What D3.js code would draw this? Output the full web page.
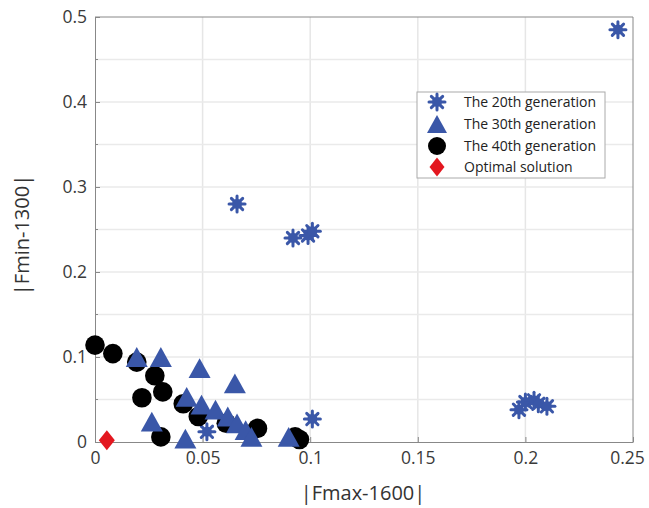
<!DOCTYPE html>
<html>
<head>
<meta charset="utf-8">
<script src="https://cdn.jsdelivr.net/npm/d3@7"></script>
<style>
  html, body { margin: 0; padding: 0; background: #fff; }
  svg { display: block; }
  text { font-family: "Open Sans", "Noto Sans", sans-serif; }
</style>
</head>
<body>
<svg id="chart" width="649" height="508"></svg>
<script>
// ---- data ----
const gen20X = [0.243, 0.066, 0.092, 0.099, 0.101, 0.197, 0.200, 0.204, 0.206, 0.210, 0.101, 0.052];
const gen20Y = [0.485, 0.280, 0.240, 0.243, 0.248, 0.038, 0.047, 0.049, 0.045, 0.042, 0.027, 0.012];

const gen30X = [0.0194, 0.0306, 0.0486, 0.065, 0.0264, 0.042, 0.0426, 0.0495, 0.056, 0.0617, 0.066, 0.070, 0.0727, 0.090];
const gen30Y = [0.100, 0.100, 0.087, 0.069, 0.024, 0.004, 0.053, 0.044, 0.038, 0.030, 0.022, 0.014, 0.006, 0.006];

const gen40X = [0.000, 0.0083, 0.0194, 0.0278, 0.0315, 0.0218, 0.0306, 0.041, 0.048, 0.061, 0.0755, 0.093, 0.095];
const gen40Y = [0.114, 0.104, 0.094, 0.078, 0.059, 0.052, 0.006, 0.045, 0.030, 0.022, 0.016, 0.006, 0.003];

const optX = [0.0055];
const optY = [0.002];

const xTicks = [0, 0.05, 0.1, 0.15, 0.2, 0.25];
const xTickLabels = ["0", "0.05", "0.1", "0.15", "0.2", "0.25"];
const yTicks = [0, 0.1, 0.2, 0.3, 0.4, 0.5];
const yTickLabels = ["0", "0.1", "0.2", "0.3", "0.4", "0.5"];
const yMinorTicks = [0.05, 0.15, 0.25, 0.35, 0.45];

const legendLabels = ["The 20th generation", "The 30th generation", "The 40th generation", "Optimal solution"];
const xLabel = "|Fmax-1600|";
const yLabel = "|Fmin-1300|";

// ---- layout ----
const svg = d3.select("#chart");
const L = 95, R = 633, T = 17, B = 442;
const x = d3.scaleLinear().domain([0, 0.25]).range([L, R]);
const y = d3.scaleLinear().domain([0, 0.5]).range([B, T]);

const BLUE = "#3a57a8", BLACK = "#000", RED = "#e3171f";

// grid
const grid = svg.append("g");
grid.selectAll("line.vx").data(xTicks.slice(1, -1)).join("line")
  .attr("x1", d => x(d)).attr("x2", d => x(d)).attr("y1", T).attr("y2", B)
  .attr("stroke", "#e6e6e6").attr("stroke-width", 1.5);
grid.selectAll("line.hy").data(yTicks.slice(1, -1).concat(yMinorTicks)).join("line")
  .attr("y1", d => y(d)).attr("y2", d => y(d)).attr("x1", L).attr("x2", R)
  .attr("stroke", "#eaeaea").attr("stroke-width", 1.5);

// axes
const xAxis = d3.axisBottom(x).tickValues(xTicks).tickFormat((d, i) => xTickLabels[i]).tickSizeInner(-5).tickSizeOuter(0).tickPadding(10);
const yAxis = d3.axisLeft(y).tickValues(yTicks).tickFormat((d, i) => yTickLabels[i]).tickSizeInner(-5).tickSizeOuter(0).tickPadding(8);
const gx = svg.append("g").attr("transform", `translate(0,${B})`).call(xAxis);
const gy = svg.append("g").attr("transform", `translate(${L},0)`).call(yAxis);
[gx, gy].forEach(g => {
  g.select(".domain").attr("stroke", "#888");
  g.selectAll(".tick line").attr("stroke", "#888");
  g.selectAll(".tick text").attr("fill", "#3a3a3a").attr("font-size", 17.5).attr("font-family", "'Open Sans', sans-serif");
});
// keep the last x label inside the window
gx.selectAll(".tick text").filter((d, i) => i === xTicks.length - 1).attr("dx", "-6");
svg.append("g").selectAll("line").data(yMinorTicks).join("line")
  .attr("x1", L).attr("x2", L + 3).attr("y1", d => y(d)).attr("y2", d => y(d)).attr("stroke", "#888");
// top and right border
svg.append("line").attr("x1", L).attr("x2", R).attr("y1", T).attr("y2", T).attr("stroke", "#888");
svg.append("line").attr("x1", R).attr("x2", R).attr("y1", T).attr("y2", B).attr("stroke", "#888");

// axis labels
svg.append("text").attr("x", 363).attr("y", 500).attr("text-anchor", "middle")
  .attr("font-size", 20).attr("fill", "#333").text(xLabel);
svg.append("text").attr("transform", `translate(29,235) rotate(-90)`).attr("text-anchor", "middle")
  .attr("font-size", 20).attr("fill", "#333").text(yLabel);

// marker drawers
function star(g, cx, cy, r) {
  const s = g.append("g").attr("transform", `translate(${cx},${cy})`);
  for (let k = 0; k < 4; k++) {
    const a = k * Math.PI / 4;
    s.append("line").attr("x1", -r * Math.cos(a)).attr("y1", -r * Math.sin(a))
      .attr("x2", r * Math.cos(a)).attr("y2", r * Math.sin(a))
      .attr("stroke", BLUE).attr("stroke-width", 3).attr("stroke-linecap", "round");
  }
  s.append("circle").attr("r", r * 0.62).attr("fill", BLUE);
}
function tri(g, cx, cy, w) {
  const h = w * 0.9;
  g.append("path").attr("d", `M${cx},${cy - h / 2}L${cx + w / 2},${cy + h / 2}L${cx - w / 2},${cy + h / 2}Z`)
    .attr("fill", BLUE);
}
function dot(g, cx, cy, r) {
  g.append("circle").attr("cx", cx).attr("cy", cy).attr("r", r).attr("fill", BLACK);
}
function diamond(g, cx, cy, w, h) {
  g.append("path").attr("d", `M${cx},${cy - h / 2}L${cx + w / 2},${cy}L${cx},${cy + h / 2}L${cx - w / 2},${cy}Z`)
    .attr("fill", RED);
}

// data marks
const marks = svg.append("g");
gen20X.forEach((v, i) => star(marks, x(v), y(gen20Y[i]), 8));
gen40X.forEach((v, i) => dot(marks, x(v), y(gen40Y[i]), 9.8));
gen30X.forEach((v, i) => tri(marks, x(v), y(gen30Y[i]), 22));
optX.forEach((v, i) => diamond(marks, x(v), y(optY[i]), 16, 20));

// legend
const lg = svg.append("g");
lg.append("rect").attr("x", 417).attr("y", 92).attr("width", 188).attr("height", 86)
  .attr("fill", "#fff").attr("stroke", "#aaa").attr("stroke-width", 1);
const rowY = [102, 124, 146, 167];
star(lg, 437, rowY[0], 8);
tri(lg, 437, rowY[1], 20);
dot(lg, 437, rowY[2], 9);
diamond(lg, 437, rowY[3], 15, 19);
lg.selectAll("text").data(legendLabels).join("text")
  .attr("x", 464).attr("y", (d, i) => rowY[i]).attr("dy", "0.35em")
  .attr("font-size", 14).attr("fill", "#222").text(d => d);
</script>
</body>
</html>
